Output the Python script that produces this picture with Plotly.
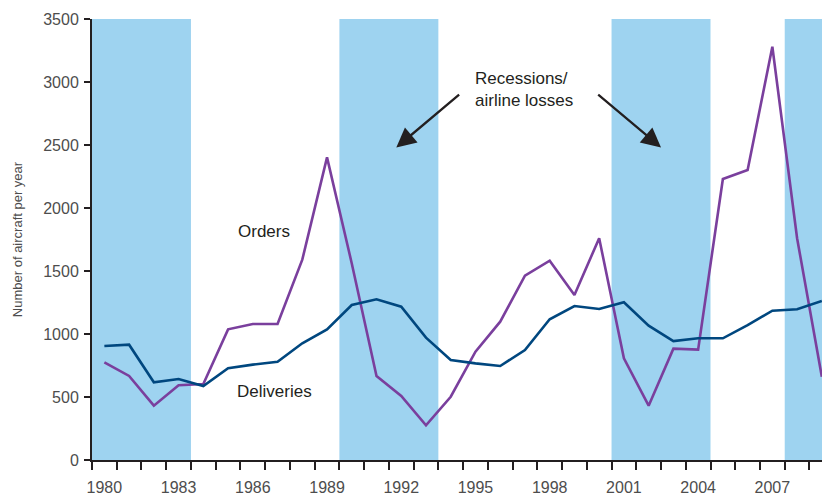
import plotly.graph_objects as go

# data
years = list(range(1980, 2010))
deliveries = [905, 915, 617, 643, 587, 728, 757, 780, 926, 1037,
              1230, 1275, 1217, 971, 794, 767, 746, 873, 1117, 1222,
              1198, 1252, 1066, 944, 966, 966, 1071, 1185, 1196, 1262]
orders = [775, 667, 431, 593, 603, 1037, 1079, 1079, 1590, 2402,
          1560, 667, 508, 275, 502, 860, 1098, 1463, 1582, 1310,
          1760, 807, 431, 884, 876, 2230, 2302, 3280, 1760, 661]

# recession / airline-loss periods (first year, last year)
recessions = [(1980, 1983), (1990, 1993), (2001, 2004), (2008, 2009)]

x_labels = list(range(1980, 2008, 3))
y_ticks = list(range(0, 3501, 500))

DARK = "#231f20"
GREY = "#4d4d4d"
FONT = "Liberation Sans, Arial, sans-serif"

fig = go.Figure()

for start, end in recessions:
    fig.add_vrect(x0=start - 0.5, x1=end + 0.5, fillcolor="#9ed3f0",
                  line_width=0, layer="below", opacity=1)

fig.add_trace(go.Scatter(x=years, y=orders, mode="lines", name="Orders",
                         line=dict(color="#7a3f9d", width=2.6)))
fig.add_trace(go.Scatter(x=years, y=deliveries, mode="lines", name="Deliveries",
                         line=dict(color="#00477f", width=2.6)))

fig.add_annotation(x=1986.46, y=1817, text="Orders", showarrow=False,
                   font=dict(size=17, color=DARK))
fig.add_annotation(x=1986.86, y=544, text="Deliveries", showarrow=False,
                   font=dict(size=17, color=DARK))
fig.add_annotation(x=1994.9, y=2940, text="Recessions/<br>airline losses",
                   showarrow=False, align="left", xanchor="left",
                   font=dict(size=17, color=DARK))

# arrows pointing into the recession bands
fig.add_annotation(x=1991.8, y=2480, ax=1994.4, ay=2910, xref="x", yref="y",
                   axref="x", ayref="y", text="", showarrow=True,
                   arrowhead=2, arrowsize=1.7, arrowwidth=2.3, arrowcolor=DARK)
fig.add_annotation(x=2002.5, y=2480, ax=1999.9, ay=2910, xref="x", yref="y",
                   axref="x", ayref="y", text="", showarrow=True,
                   arrowhead=2, arrowsize=1.7, arrowwidth=2.3, arrowcolor=DARK)

# the page body has an 8px margin, so the figure is 8px smaller and shifted
fig.update_layout(
    width=822, height=487,
    margin=dict(l=84, r=0, t=11, b=35),
    plot_bgcolor="white", paper_bgcolor="white",
    showlegend=False,
    font=dict(family=FONT, color=GREY),
    xaxis=dict(
        range=[1979.5, 2009.33], showgrid=False, zeroline=False,
        showline=True, linecolor=DARK, linewidth=2, automargin=False,
        tickmode="array", tickvals=x_labels, ticks="",
        ticklabelstandoff=12,
        tickfont=dict(size=16, color=GREY),
        minor=dict(tickmode="linear", tick0=1979.5, dtick=1, ticks="outside",
                   ticklen=8, tickwidth=2, tickcolor=DARK),
    ),
    yaxis=dict(
        range=[0, 3500], showgrid=False, zeroline=False,
        showline=True, linecolor=DARK, linewidth=2, automargin=False,
        tickmode="array", tickvals=y_ticks, ticks="outside",
        ticklen=6, tickwidth=2, tickcolor=DARK,
        ticklabelstandoff=2,
        tickfont=dict(size=16, color=GREY),
        title=dict(text="Number of aircraft per year", standoff=18,
                   font=dict(size=13, color=GREY)),
    ),
)

fig.write_html("out.html")
